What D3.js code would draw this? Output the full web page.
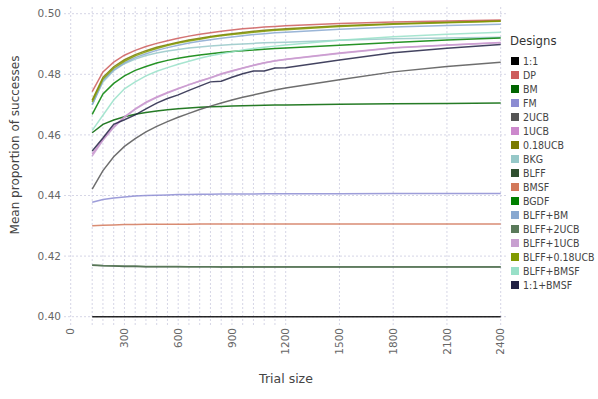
<!DOCTYPE html>
<html><head><meta charset="utf-8">
<script src="https://cdn.jsdelivr.net/npm/d3@7"></script>
<style>
body{margin:0;background:#fff;}
text{font-family:"DejaVu Sans",Verdana,sans-serif;}
.leg{font-family:"DejaVu Sans Condensed","Liberation Sans",sans-serif;}
</style></head>
<body><svg id="c" width="598" height="399"></svg>
<script>
const trialSizes = [120,180,240,300,360,420,480,540,600,660,720,780,840,900,960,1020,1080,1140,1200,1500,1800,2100,2400];
const xTicks = [0,300,600,900,1200,1500,1800,2100,2400];
const yTicks = [0.40,0.42,0.44,0.46,0.48,0.50];
const designs = ["1:1","DP","BM","FM","2UCB","1UCB","0.18UCB","BKG","BLFF","BMSF","BGDF","BLFF+BM","BLFF+2UCB","BLFF+1UCB","BLFF+0.18UCB","BLFF+BMSF","1:1+BMSF"];
const colors = ["#000000","#cd5c5c","#006400","#8c8cd2","#555555","#cc88cc","#7a7a00","#96c8c8","#2f4f2f","#d2785a","#008000","#88a8d0","#5a7a5a","#c8a0d0","#809a00","#98e0c8","#222244"];

const v_11 = [0.400,0.400,0.400,0.400,0.400,0.400,0.400,0.400,0.400,0.400,0.400,0.400,0.400,0.400,0.400,0.400,0.400,0.400,0.400,0.400,0.400,0.400,0.400];
const v_DP = [0.4743,0.4808,0.4840,0.4863,0.4879,0.4892,0.4902,0.4911,0.4919,0.4926,0.4932,0.4937,0.4942,0.4946,0.4950,0.4953,0.4956,0.4958,0.4960,0.4968,0.4973,0.4976,0.4979];
const v_BM = [0.4607,0.4635,0.4649,0.4660,0.4668,0.4674,0.4679,0.4683,0.4686,0.4689,0.4691,0.4693,0.4694,0.4695,0.4696,0.4697,0.4698,0.4699,0.4699,0.4701,0.4703,0.4704,0.4705];
const v_FM = [0.4378,0.4387,0.4392,0.4395,0.4398,0.4400,0.4401,0.4402,0.4403,0.4403,0.4404,0.4404,0.4405,0.4405,0.4405,0.4405,0.4406,0.4406,0.4406,0.4406,0.4407,0.4407,0.4407];
const v_2UCB = [0.4421,0.4482,0.4528,0.4562,0.4588,0.4610,0.4628,0.4644,0.4658,0.4671,0.4684,0.4695,0.4705,0.4715,0.4724,0.4732,0.4740,0.4748,0.4755,0.4782,0.4808,0.4826,0.4840];
const v_1UCB = [0.4536,0.4585,0.4627,0.4660,0.4686,0.4708,0.4725,0.4740,0.4753,0.4766,0.4778,0.4789,0.4802,0.4812,0.4821,0.4830,0.4838,0.4845,0.4850,0.4870,0.4888,0.4897,0.4905];
const v_018UCB = [0.4715,0.4790,0.4825,0.4848,0.4865,0.4878,0.4889,0.4898,0.4906,0.4913,0.4919,0.4925,0.4930,0.4934,0.4938,0.4942,0.4945,0.4948,0.4950,0.4960,0.4967,0.4972,0.4976];
const v_BKG = [0.4700,0.4775,0.4812,0.4835,0.4850,0.4862,0.4870,0.4877,0.4882,0.4887,0.4890,0.4893,0.4896,0.4898,0.4900,0.4902,0.4904,0.4905,0.4906,0.4912,0.4917,0.4920,0.4922];
const v_BLFF = [0.4170,0.4168,0.4167,0.4166,0.4166,0.4165,0.4165,0.4165,0.4165,0.4165,0.4165,0.4165,0.4164,0.4164,0.4164,0.4164,0.4164,0.4164,0.4164,0.4164,0.4164,0.4164,0.4164];
const v_BMSF = [0.4300,0.4302,0.4303,0.4304,0.4304,0.4305,0.4305,0.4305,0.4305,0.4305,0.4306,0.4306,0.4306,0.4306,0.4306,0.4306,0.4306,0.4306,0.4306,0.4306,0.4306,0.4306,0.4306];
const v_BGDF = [0.4668,0.4735,0.4770,0.4795,0.4813,0.4826,0.4837,0.4846,0.4853,0.4859,0.4864,0.4868,0.4872,0.4875,0.4878,0.4880,0.4883,0.4885,0.4887,0.4896,0.4905,0.4913,0.4920];
const v_BLFF_BM = [0.4699,0.4780,0.4815,0.4838,0.4855,0.4868,0.4879,0.4888,0.4896,0.4903,0.4909,0.4914,0.4919,0.4923,0.4927,0.4931,0.4934,0.4937,0.4939,0.4949,0.4956,0.4961,0.4965];
const v_BLFF_2UCB = [0.4171,0.4169,0.4168,0.4167,0.4167,0.4166,0.4166,0.4166,0.4166,0.4165,0.4165,0.4165,0.4165,0.4165,0.4165,0.4165,0.4165,0.4165,0.4165,0.4165,0.4165,0.4165,0.4165];
const v_BLFF_1UCB = [0.4530,0.4582,0.4624,0.4658,0.4684,0.4706,0.4723,0.4738,0.4752,0.4765,0.4777,0.4788,0.4800,0.4810,0.4820,0.4829,0.4837,0.4844,0.4849,0.4869,0.4887,0.4896,0.4904];
const v_BLFF_018UCB = [0.4709,0.4785,0.4820,0.4843,0.4861,0.4874,0.4885,0.4895,0.4903,0.4910,0.4916,0.4922,0.4927,0.4931,0.4935,0.4939,0.4942,0.4945,0.4947,0.4958,0.4965,0.4970,0.4975];
const v_BLFF_BMSF = [0.4615,0.4665,0.4715,0.4752,0.4775,0.4795,0.4810,0.4822,0.4833,0.4843,0.4853,0.4861,0.4868,0.4874,0.4880,0.4885,0.4889,0.4893,0.4897,0.4912,0.4924,0.4932,0.4939];
const v_11_BMSF = [0.4547,0.4590,0.4635,0.4650,0.4666,0.4686,0.4705,0.4720,0.4732,0.4747,0.4761,0.4775,0.4777,0.4790,0.4802,0.4811,0.4811,0.4821,0.4822,0.4847,0.4871,0.4886,0.4898];

const seriesValues = [v_11,v_DP,v_BM,v_FM,v_2UCB,v_1UCB,v_018UCB,v_BKG,v_BLFF,v_BMSF,v_BGDF,v_BLFF_BM,v_BLFF_2UCB,v_BLFF_1UCB,v_BLFF_018UCB,v_BLFF_BMSF,v_11_BMSF];

const svg = d3.select("#c");
const x = d3.scaleLinear().domain([0,2400]).range([70.7,500.7]);
const y = d3.scaleLinear().domain([0.40,0.50]).range([316.7,13.7]);
const gridColor = "#d6d6e6";

const g = svg.append("g");
g.selectAll("line.vx").data([0].concat(trialSizes)).join("line")
  .attr("x1",d=>x(d)).attr("x2",d=>x(d)).attr("y1",7).attr("y2",325)
  .attr("stroke",gridColor).attr("stroke-dasharray","2,2").attr("stroke-width",1);
g.selectAll("line.hy").data(yTicks).join("line")
  .attr("x1",64).attr("x2",506).attr("y1",d=>y(d)).attr("y2",d=>y(d))
  .attr("stroke",gridColor).attr("stroke-dasharray","2,2").attr("stroke-width",1);

svg.append("g").selectAll("text").data(yTicks).join("text")
  .attr("x",61).attr("y",d=>y(d)).attr("dy","0.35em").attr("text-anchor","end")
  .attr("font-size",10.5).attr("fill","#666").text(d=>d3.format(".2f")(d));
svg.append("g").selectAll("text").data(xTicks).join("text")
  .attr("transform",d=>`translate(${x(d)},328) rotate(-90)`)
  .attr("dy","0.35em").attr("text-anchor","end")
  .attr("font-size",10.5).attr("fill","#666").text(d=>d);

svg.append("text").attr("x",286).attr("y",383).attr("text-anchor","middle")
  .attr("font-size",12.5).attr("fill","#444").text("Trial size");
svg.append("text").attr("transform","translate(19,145) rotate(-90)").attr("text-anchor","middle")
  .attr("font-size",12).attr("fill","#444").text("Mean proportion of successes");

const line = d3.line().x((d,i)=>x(trialSizes[i])).y(d=>y(d));
const lg = svg.append("g");
seriesValues.forEach((vals,k)=>{
  lg.append("path").datum(vals).attr("d",line).attr("fill","none")
    .attr("stroke",colors[k]).attr("stroke-width",1.5).attr("stroke-opacity",0.85);
});

svg.append("text").attr("class","leg").attr("x",510).attr("y",45).attr("font-size",13).attr("fill","#333").text("Designs");
const leg = svg.append("g").selectAll("g").data(designs).join("g")
  .attr("transform",(d,i)=>`translate(511,${61+i*14.0})`);
leg.append("rect").attr("x",0).attr("y",-4).attr("width",8).attr("height",8).attr("fill",(d,i)=>colors[i]);
leg.append("text").attr("class","leg").attr("x",12).attr("dy","0.35em").attr("font-size",10.5).attr("fill","#444").text(d=>d);
</script></body></html>
